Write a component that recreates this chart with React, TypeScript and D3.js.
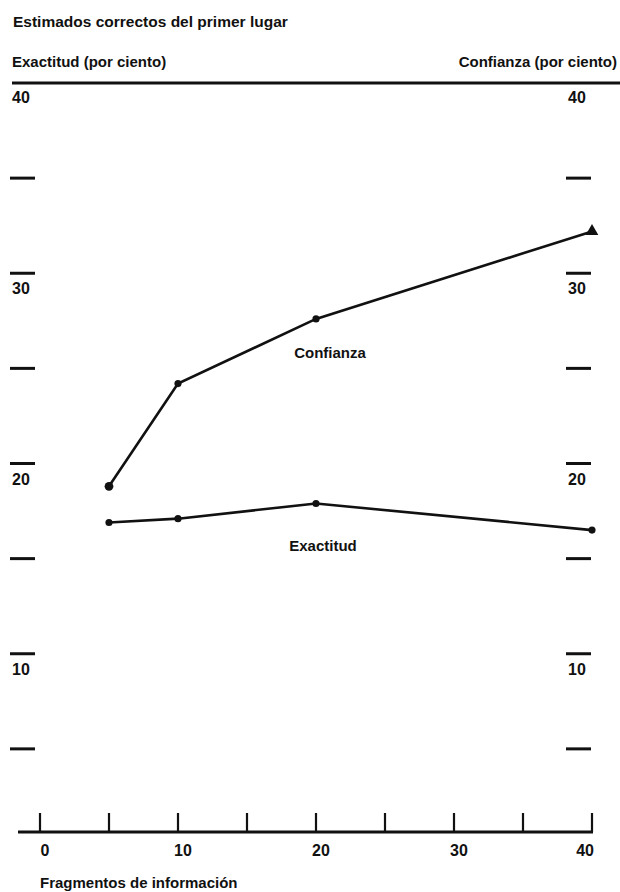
import React from "react";
import * as d3 from "d3";

const title = "Estimados correctos del primer lugar";
const leftAxisTitle = "Exactitud (por ciento)";
const rightAxisTitle = "Confianza (por ciento)";
const xAxisTitle = "Fragmentos de información";

const pieces = [5, 10, 20, 40];
const confianza = [18.8, 24.2, 27.6, 32.2];
const exactitud = [16.9, 17.1, 17.9, 16.5];

const xTicks = [0, 5, 10, 15, 20, 25, 30, 35, 40];
const xLabels = [0, 10, 20, 30, 40];
const yMajor = [10, 20, 30];
const yMinor = [5, 15, 25, 35];

const W = 620;
const H = 892;
const FONT = "'Liberation Sans', Arial, Helvetica, sans-serif";

export default function App() {
  const x = d3.scaleLinear().domain([0, 40]).range([40, 592]);
  const y = d3.scaleLinear().domain([0, 40]).range([844, 83]);
  const axisY = 832;

  const line = d3
    .line<number>()
    .x((_, i) => x(pieces[i]))
    .y((d) => y(d));

  const tri = d3.symbol().type(d3.symbolTriangle).size(70)();
  const dot = d3.symbol().type(d3.symbolCircle).size(40)();
  const bigDot = d3.symbol().type(d3.symbolCircle).size(60)();

  const leftX1 = 10,
    leftX2 = 35,
    rightX1 = 566,
    rightX2 = 591;

  return (
    <svg
      width={W}
      height={H}
      style={{ position: "absolute", left: 0, top: 0, background: "#fff" }}
      fontFamily={FONT}
      fontWeight="bold"
      fill="#111"
    >
      <rect width={W} height={H} fill="#fff" />
      <text x={13} y={27} fontSize={15.5}>{title}</text>
      <text x={12} y={67} fontSize={15}>{leftAxisTitle}</text>
      <text x={617} y={67} fontSize={15} textAnchor="end">{rightAxisTitle}</text>

      {/* top rule at 40 */}
      <line x1={12} x2={620} y1={y(40)} y2={y(40)} stroke="#111" strokeWidth={2.8} />
      <text x={12} y={y(40) + 20} fontSize={16}>40</text>
      <text x={568} y={y(40) + 20} fontSize={16}>40</text>

      {yMajor.map((v) => (
        <g key={"maj" + v}>
          <line x1={leftX1} x2={leftX2} y1={y(v)} y2={y(v)} stroke="#111" strokeWidth={3} />
          <line x1={rightX1} x2={rightX2} y1={y(v)} y2={y(v)} stroke="#111" strokeWidth={3} />
          <text x={12} y={y(v) + 21} fontSize={16}>{v}</text>
          <text x={568} y={y(v) + 21} fontSize={16}>{v}</text>
        </g>
      ))}
      {yMinor.map((v) => (
        <g key={"min" + v}>
          <line x1={leftX1} x2={leftX2} y1={y(v)} y2={y(v)} stroke="#111" strokeWidth={3} />
          <line x1={rightX1} x2={rightX2} y1={y(v)} y2={y(v)} stroke="#111" strokeWidth={3} />
        </g>
      ))}

      {/* x axis */}
      <line x1={18} x2={x(40) + 1} y1={axisY} y2={axisY} stroke="#111" strokeWidth={2.8} />
      {xTicks.map((t) => (
        <line key={"xt" + t} x1={x(t)} x2={x(t)} y1={axisY} y2={axisY - 19} stroke="#111" strokeWidth={2.2} />
      ))}
      {xLabels.map((t, i) => (
        <text
          key={"xl" + t}
          x={i === xLabels.length - 1 ? x(t) + 2 : x(t) + 5}
          y={856}
          fontSize={16}
          textAnchor={i === xLabels.length - 1 ? "end" : "middle"}
        >
          {t}
        </text>
      ))}
      <text x={40} y={888} fontSize={15}>{xAxisTitle}</text>

      {/* series */}
      <path d={line(confianza) || ""} fill="none" stroke="#111" strokeWidth={2.6} />
      <path d={line(exactitud) || ""} fill="none" stroke="#111" strokeWidth={2.6} />
      {confianza.map((v, i) => (
        <path
          key={"cp" + i}
          d={i === confianza.length - 1 ? tri : i === 0 ? bigDot : dot}
          transform={`translate(${x(pieces[i])},${y(v)})`}
          fill="#111"
        />
      ))}
      {exactitud.map((v, i) => (
        <path key={"ep" + i} d={dot} transform={`translate(${x(pieces[i])},${y(v)})`} fill="#111" />
      ))}
      <text x={330} y={358} fontSize={15} textAnchor="middle">Confianza</text>
      <text x={323} y={551} fontSize={15} textAnchor="middle">Exactitud</text>
    </svg>
  );
}
